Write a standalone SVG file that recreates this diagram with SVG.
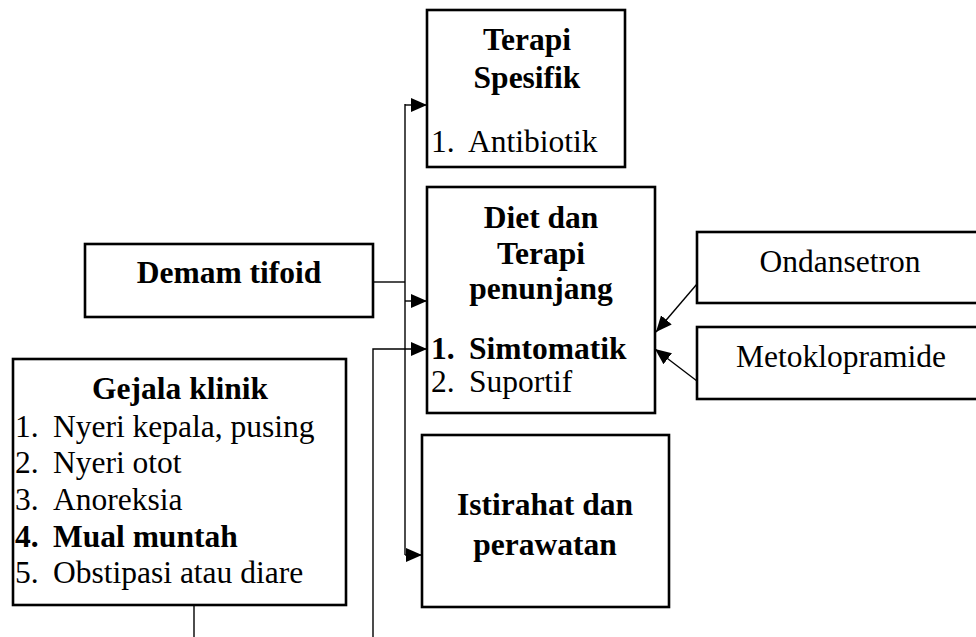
<svg xmlns="http://www.w3.org/2000/svg" width="976" height="637" viewBox="0 0 976 637">
<style>
.box{fill:#fff;stroke:#000;stroke-width:2.6}
.t{font-family:"Liberation Serif","Times New Roman",serif;font-size:31.5px;fill:#000}
.b{font-weight:bold}
.m{text-anchor:middle}
.ln{fill:none;stroke:#000;stroke-width:1.4}
</style>
<defs>
<marker id="ah" viewBox="0 0 16 14" refX="16" refY="7" markerWidth="16" markerHeight="14" markerUnits="userSpaceOnUse" orient="auto">
<path d="M0,0 L16,7 L0,14 Z" fill="#000"/>
</marker>
</defs>
<rect width="976" height="637" fill="#fff"/>
<g id="connectors">
<polyline class="ln" points="373,282 405,282"/>
<polyline class="ln" points="405,104 405,555"/>
<line class="ln" x1="405" y1="105" x2="427" y2="105" marker-end="url(#ah)"/>
<line class="ln" x1="405" y1="301" x2="427" y2="301" marker-end="url(#ah)"/>
<line class="ln" x1="405" y1="555" x2="422" y2="555" marker-end="url(#ah)"/>
<polyline class="ln" points="373,637 373,349 427,349" marker-end="url(#ah)"/>
<line class="ln" x1="194" y1="605" x2="194" y2="637"/>
<line class="ln" x1="697" y1="284" x2="656" y2="332" marker-end="url(#ah)"/>
<line class="ln" x1="697" y1="381" x2="655" y2="349" marker-end="url(#ah)"/>
</g>
<g id="demam">
<rect class="box" x="85" y="244" width="288" height="73"/>
<text class="t b m" x="229" y="283">Demam tifoid</text>
</g>
<g id="terapi-spesifik">
<rect class="box" x="427" y="10" width="198" height="157"/>
<text class="t b m" x="527" y="50">Terapi</text>
<text class="t b m" x="527" y="88">Spesifik</text>
<text class="t" x="431" y="152">1.</text>
<text class="t" x="468" y="152">Antibiotik</text>
</g>
<g id="diet">
<rect class="box" x="427" y="187" width="228" height="226"/>
<text class="t b m" x="541" y="228">Diet dan</text>
<text class="t b m" x="541" y="264">Terapi</text>
<text class="t b m" x="541" y="299">penunjang</text>
<text class="t b" x="431" y="359">1.</text>
<text class="t b" x="469" y="359">Simtomatik</text>
<text class="t" x="431" y="392">2.</text>
<text class="t" x="469" y="392">Suportif</text>
</g>
<g id="istirahat">
<rect class="box" x="422" y="435" width="247" height="172"/>
<text class="t b m" x="545" y="515">Istirahat dan</text>
<text class="t b m" x="545" y="555">perawatan</text>
</g>
<g id="ondansetron">
<rect class="box" x="697" y="232" width="300" height="71"/>
<text class="t m" x="840" y="272">Ondansetron</text>
</g>
<g id="metoklopramide">
<rect class="box" x="697" y="327" width="300" height="72"/>
<text class="t m" x="841" y="367">Metoklopramide</text>
</g>
<g id="gejala">
<rect class="box" x="13" y="359" width="333" height="246"/>
<text class="t b m" x="180" y="399">Gejala klinik</text>
<text class="t" x="15" y="437">1.</text>
<text class="t" x="53" y="437">Nyeri kepala, pusing</text>
<text class="t" x="15" y="473">2.</text>
<text class="t" x="53" y="473">Nyeri otot</text>
<text class="t" x="15" y="510">3.</text>
<text class="t" x="53" y="510">Anoreksia</text>
<text class="t b" x="15" y="547">4.</text>
<text class="t b" x="53" y="547">Mual muntah</text>
<text class="t" x="15" y="583">5.</text>
<text class="t" x="53" y="583">Obstipasi atau diare</text>
</g>
</svg>
